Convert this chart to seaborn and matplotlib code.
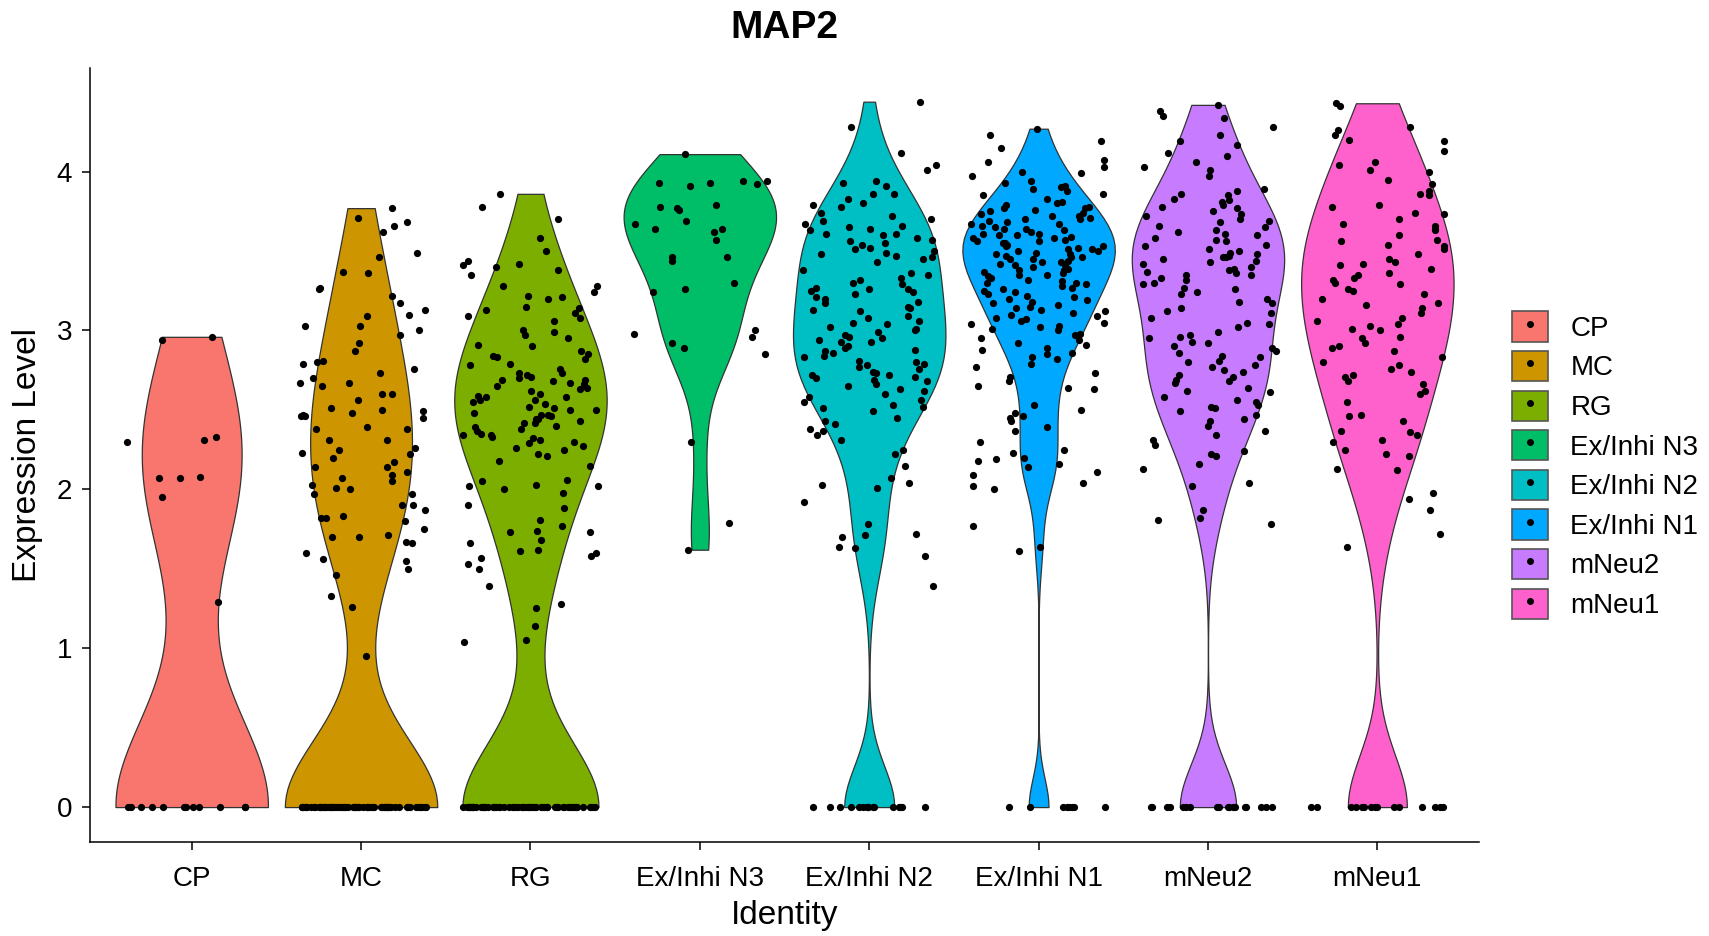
import numpy as np
import pandas as pd
import matplotlib
matplotlib.use("Agg")
import matplotlib.pyplot as plt
from matplotlib.patches import Patch
from matplotlib.lines import Line2D
import seaborn as sns

sns.set_style("ticks")
plt.rcParams['font.family'] = ['Liberation Sans', 'DejaVu Sans']
plt.rcParams['text.color'] = 'black'
plt.rcParams['axes.labelcolor'] = 'black'

idents = ['CP', 'MC', 'RG', 'Ex/Inhi N3', 'Ex/Inhi N2', 'Ex/Inhi N1', 'mNeu2', 'mNeu1']
colors = ['#F8766D', '#CD9600', '#7CAE00', '#00BE67', '#00BFC4', '#00A9FF', '#C77CFF', '#FF61CC']

# cells with zero MAP2 expression per identity
n_zero = {'CP': 12, 'MC': 68, 'RG': 62, 'Ex/Inhi N3': 0, 'Ex/Inhi N2': 16,
          'Ex/Inhi N1': 8, 'mNeu2': 18, 'mNeu1': 15}

cp_expr = [2.96, 2.94, 2.33, 2.31, 2.30, 2.08, 2.07, 2.07, 1.95, 1.29]
mc_expr = [3.77, 3.71, 3.68, 3.66, 3.62, 3.49, 3.46, 3.37, 3.36, 3.27, 3.26, 3.22, 3.17, 3.13, 3.10,
           3.09, 3.03, 3.03, 3.00, 2.97, 2.92, 2.87, 2.81, 2.80, 2.79, 2.76, 2.73, 2.70, 2.67, 2.67,
           2.65, 2.60, 2.60, 2.56, 2.51, 2.50, 2.49, 2.48, 2.47, 2.46, 2.46, 2.45, 2.39, 2.38, 2.38,
           2.31, 2.31, 2.26, 2.25, 2.23, 2.22, 2.20, 2.17, 2.14, 2.14, 2.11, 2.09, 2.07, 2.05, 2.03,
           2.01, 2.00, 1.97, 1.97, 1.90, 1.90, 1.87, 1.83, 1.82, 1.82, 1.80, 1.75, 1.71, 1.70, 1.70,
           1.67, 1.66, 1.60, 1.56, 1.55, 1.50, 1.46, 1.33, 1.26, 0.95]
rg_expr = [3.86, 3.78, 3.70, 3.58, 3.50, 3.44, 3.42, 3.41, 3.40, 3.38, 3.35, 3.28, 3.28, 3.24, 3.22,
           3.21, 3.20, 3.15, 3.14, 3.13, 3.11, 3.09, 3.08, 3.06, 3.00, 2.99, 2.97, 2.95, 2.91, 2.90,
           2.87, 2.85, 2.84, 2.83, 2.82, 2.79, 2.78, 2.76, 2.73, 2.73, 2.72, 2.71, 2.70, 2.69, 2.69,
           2.68, 2.67, 2.66, 2.65, 2.64, 2.63, 2.62, 2.60, 2.59, 2.58, 2.58, 2.56, 2.56, 2.55, 2.54,
           2.52, 2.51, 2.50, 2.50, 2.48, 2.47, 2.47, 2.46, 2.44, 2.44, 2.43, 2.42, 2.42, 2.40, 2.39,
           2.38, 2.37, 2.35, 2.34, 2.34, 2.33, 2.32, 2.31, 2.30, 2.29, 2.27, 2.26, 2.25, 2.22, 2.21,
           2.18, 2.15, 2.06, 2.05, 2.03, 2.02, 2.02, 2.00, 1.98, 1.90, 1.88, 1.81, 1.77, 1.74, 1.73,
           1.73, 1.68, 1.66, 1.62, 1.61, 1.60, 1.58, 1.57, 1.53, 1.50, 1.39, 1.28, 1.25, 1.14, 1.05, 1.04]
n3_expr = [4.11, 3.94, 3.94, 3.93, 3.93, 3.92, 3.91, 3.79, 3.78, 3.77, 3.76, 3.69, 3.67, 3.64, 3.64,
           3.62, 3.57, 3.46, 3.46, 3.44, 3.30, 3.26, 3.24, 3.00, 2.98, 2.96, 2.92, 2.89, 2.85, 2.30,
           1.79, 1.62]
n2_expr = [4.44, 4.28, 4.12, 4.04, 4.01, 3.94, 3.93, 3.91, 3.86, 3.86, 3.83, 3.80, 3.79, 3.78, 3.74,
           3.72, 3.70, 3.69, 3.67, 3.66, 3.65, 3.64, 3.63, 3.61, 3.61, 3.60, 3.58, 3.57, 3.56, 3.55,
           3.54, 3.52, 3.51, 3.50, 3.49, 3.48, 3.47, 3.46, 3.45, 3.43, 3.38, 3.36, 3.35, 3.33, 3.32,
           3.30, 3.29, 3.27, 3.26, 3.26, 3.25, 3.24, 3.23, 3.21, 3.20, 3.18, 3.17, 3.15, 3.14, 3.13,
           3.12, 3.09, 3.08, 3.06, 3.05, 3.04, 3.02, 3.01, 3.00, 2.99, 2.97, 2.96, 2.95, 2.94, 2.93,
           2.93, 2.90, 2.89, 2.88, 2.87, 2.86, 2.84, 2.83, 2.81, 2.80, 2.79, 2.78, 2.77, 2.76, 2.74,
           2.73, 2.72, 2.72, 2.71, 2.70, 2.69, 2.68, 2.66, 2.65, 2.63, 2.62, 2.60, 2.58, 2.56, 2.55,
           2.53, 2.52, 2.51, 2.49, 2.45, 2.43, 2.41, 2.38, 2.37, 2.34, 2.31, 2.25, 2.22, 2.15, 2.07,
           2.04, 2.03, 2.01, 1.92, 1.78, 1.72, 1.71, 1.70, 1.64, 1.63, 1.58, 1.39]
n1_expr = [4.27, 4.23, 4.19, 4.15, 4.07, 4.06, 4.03, 4.00, 3.99, 3.97, 3.94, 3.93, 3.91, 3.90, 3.89,
           3.88, 3.86, 3.85, 3.83, 3.81, 3.80, 3.79, 3.78, 3.77, 3.77, 3.76, 3.75, 3.74, 3.73, 3.72,
           3.72, 3.71, 3.70, 3.70, 3.69, 3.68, 3.67, 3.67, 3.66, 3.65, 3.64, 3.64, 3.63, 3.62, 3.61,
           3.61, 3.60, 3.60, 3.59, 3.58, 3.58, 3.57, 3.56, 3.56, 3.55, 3.55, 3.54, 3.53, 3.53, 3.52,
           3.51, 3.51, 3.50, 3.50, 3.49, 3.48, 3.48, 3.47, 3.46, 3.46, 3.45, 3.45, 3.44, 3.43, 3.43,
           3.42, 3.41, 3.41, 3.40, 3.39, 3.38, 3.38, 3.37, 3.36, 3.35, 3.35, 3.34, 3.33, 3.32, 3.31,
           3.30, 3.30, 3.29, 3.28, 3.27, 3.26, 3.25, 3.24, 3.23, 3.22, 3.21, 3.20, 3.19, 3.18, 3.17,
           3.16, 3.15, 3.14, 3.13, 3.12, 3.11, 3.10, 3.09, 3.08, 3.07, 3.06, 3.05, 3.04, 3.03, 3.02,
           3.01, 3.00, 2.98, 2.97, 2.95, 2.94, 2.92, 2.91, 2.89, 2.88, 2.86, 2.85, 2.83, 2.82, 2.79,
           2.77, 2.73, 2.71, 2.68, 2.65, 2.64, 2.63, 2.53, 2.50, 2.48, 2.46, 2.45, 2.43, 2.39, 2.37,
           2.30, 2.25, 2.23, 2.20, 2.19, 2.18, 2.16, 2.14, 2.11, 2.09, 2.04, 2.02, 2.00, 1.77, 1.64, 1.61]
mneu2_expr = [4.42, 4.38, 4.35, 4.34, 4.28, 4.23, 4.19, 4.17, 4.12, 4.10, 4.06, 4.03, 4.01, 3.97, 3.89,
              3.88, 3.86, 3.85, 3.83, 3.82, 3.81, 3.79, 3.78, 3.77, 3.75, 3.73, 3.72, 3.70, 3.69, 3.68,
              3.66, 3.65, 3.63, 3.62, 3.61, 3.60, 3.58, 3.57, 3.56, 3.54, 3.53, 3.51, 3.50, 3.49, 3.48,
              3.47, 3.46, 3.46, 3.45, 3.44, 3.43, 3.42, 3.40, 3.39, 3.38, 3.37, 3.36, 3.35, 3.35, 3.33,
              3.32, 3.30, 3.29, 3.27, 3.26, 3.24, 3.23, 3.20, 3.18, 3.17, 3.14, 3.12, 3.11, 3.08, 3.05,
              3.04, 3.02, 2.99, 2.97, 2.96, 2.95, 2.93, 2.92, 2.90, 2.89, 2.87, 2.86, 2.84, 2.83, 2.81,
              2.80, 2.78, 2.77, 2.75, 2.74, 2.72, 2.71, 2.69, 2.68, 2.67, 2.64, 2.62, 2.61, 2.58, 2.56,
              2.55, 2.53, 2.52, 2.51, 2.49, 2.47, 2.44, 2.43, 2.40, 2.37, 2.34, 2.31, 2.28, 2.24, 2.22,
              2.21, 2.16, 2.13, 2.04, 2.02, 1.87, 1.82, 1.81, 1.78]
mneu1_expr = [4.43, 4.41, 4.28, 4.26, 4.23, 4.20, 4.19, 4.13, 4.06, 4.04, 4.01, 4.00, 3.95, 3.92, 3.88,
              3.86, 3.85, 3.79, 3.78, 3.74, 3.73, 3.70, 3.67, 3.66, 3.64, 3.63, 3.60, 3.57, 3.56, 3.54,
              3.53, 3.51, 3.48, 3.45, 3.43, 3.42, 3.41, 3.39, 3.36, 3.35, 3.33, 3.32, 3.30, 3.29, 3.26,
              3.25, 3.23, 3.20, 3.17, 3.16, 3.14, 3.11, 3.08, 3.06, 3.04, 3.03, 3.01, 3.00, 2.96, 2.95,
              2.92, 2.90, 2.89, 2.87, 2.83, 2.80, 2.78, 2.76, 2.74, 2.72, 2.71, 2.68, 2.66, 2.62, 2.60,
              2.55, 2.47, 2.46, 2.43, 2.37, 2.36, 2.34, 2.31, 2.30, 2.25, 2.22, 2.21, 2.13, 2.12, 1.98,
              1.94, 1.87, 1.72, 1.64]

expr = {'CP': cp_expr, 'MC': mc_expr, 'RG': rg_expr, 'Ex/Inhi N3': n3_expr, 'Ex/Inhi N2': n2_expr,
        'Ex/Inhi N1': n1_expr, 'mNeu2': mneu2_expr, 'mNeu1': mneu1_expr}

rows = []
for ident in idents:
    vals = [0.0] * n_zero[ident] + expr[ident]
    rows += [(ident, v) for v in vals]
df = pd.DataFrame(rows, columns=['Identity', 'Expression Level'])


# bandwidth like R's bw.nrd0 (ggplot default)
def nrd0(kde):
    x = kde.dataset[0]
    sd = x.std(ddof=1)
    q75, q25 = np.percentile(x, [75, 25])
    lo = min(sd, (q75 - q25) / 1.34)
    if lo <= 0:
        lo = sd
    return 0.9 * lo * len(x) ** -0.2 / sd


np.random.seed(3)
fig = plt.figure(figsize=(17.09, 9.36), dpi=100)
ax = fig.add_axes([0.0527, 0.1004, 0.8127, 0.8266])

sns.violinplot(data=df, x='Identity', y='Expression Level', hue='Identity', order=idents,
               hue_order=idents, palette=colors, density_norm='width', cut=0, width=0.9,
               inner=None, saturation=1, linewidth=0.9, linecolor='#333333', bw_method=nrd0,
               legend=False, ax=ax)
sns.stripplot(data=df, x='Identity', y='Expression Level', order=idents, color='black',
              size=5.2, jitter=0.4, linewidth=0, ax=ax, zorder=3)

ax.set_xlim(-0.6, 7.6)
ax.set_ylim(-0.22, 4.65)
ax.set_yticks([0, 1, 2, 3, 4])
sns.despine(ax=ax)
for s in ['left', 'bottom']:
    ax.spines[s].set_linewidth(1.1)
    ax.spines[s].set_color('black')
ax.tick_params(axis='both', length=6, width=1.1, color='black', labelsize=20, labelcolor='black')
ax.tick_params(axis='x', pad=11)
ax.tick_params(axis='y', pad=7)
ax.set_xlabel('Identity', fontsize=24, labelpad=6)
ax.set_ylabel('Expression Level', fontsize=24, labelpad=10)
fig.text(0.459, 1 - 28 / 936, 'MAP2', ha='center', va='center',
         fontsize=28, fontweight='bold')

handles = [(Patch(facecolor=c, edgecolor='#555555', linewidth=1.2),
            Line2D([], [], marker='o', color='black', ls='', markersize=4))
           for c in colors]
fig.legend(handles, idents, loc='center left', bbox_to_anchor=(1512 / 1709, 0.503),
           frameon=False, fontsize=20, handlelength=1.3, handleheight=1.3,
           labelspacing=0.33, handletextpad=0.8, borderpad=0, borderaxespad=0)

fig.savefig('out.png', dpi=100)
